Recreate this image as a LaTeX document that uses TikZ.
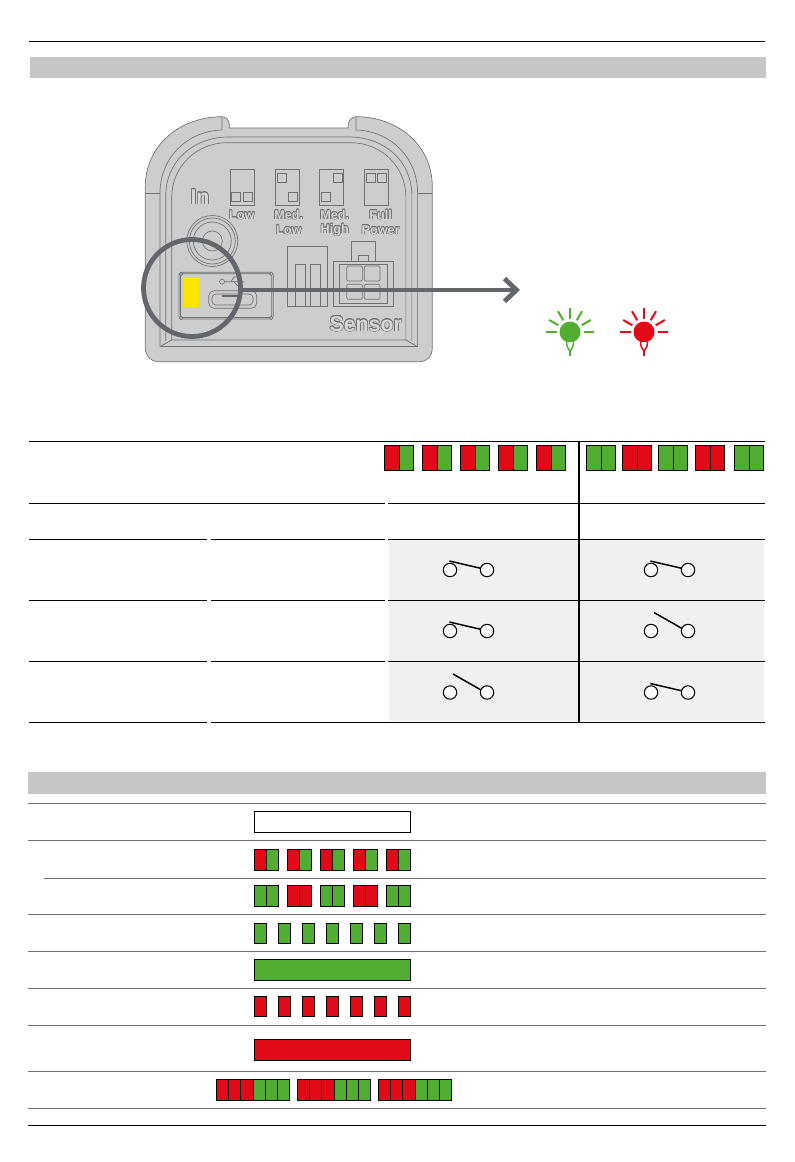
\documentclass[tikz,border=0pt]{standalone}
\usepackage{fontspec}
\setmainfont{Liberation Sans}
\usepackage[copies]{contour}
\usetikzlibrary{arrows.meta}
\definecolor{ledred}{HTML}{E30A17}
\definecolor{ledgreen}{HTML}{52AE32}
\definecolor{ledyellow}{HTML}{FFE600}
\definecolor{band}{HTML}{C6C6C6}
\definecolor{housing}{HTML}{CDCDCD}
\definecolor{edge}{HTML}{6E7072}
\definecolor{ring}{HTML}{63666A}
\tikzset{
	rule/.style={line width=.7pt},
	greyrule/.style={line width=.75pt, draw=black!55},
	cell/.style={draw=black, line width=.7pt},
	contact/.style={draw=black, fill=white, line width=.8pt},
	blade/.style={line width=1.1pt},
	outline/.style={draw=edge, line width=.5pt},
	print/.style={inner sep=0pt, font=\bfseries\fontsize{#1}{#1}\selectfont},
	print/.default=9.5
}
\contourlength{.4pt}
\contournumber{16}
\newcommand{\devtext}[1]{\contour{edge}{\textcolor{housing!80!white}{#1}}}
% x, top, width, height, left colour, right colour
\newcommand{\pairbar}[6]{
	\draw[cell, fill=#5] (#1,#2) rectangle ++(#3/2,#4);
	\draw[cell, fill=#6] (#1+#3/2,#2) rectangle ++(#3/2,#4);
}
% x, y, colour
\newcommand{\lamp}[3]{
	\fill[#3] (#1,#2) circle (10.5);
	\foreach \a in {-180,-150,...,0}
		\draw[#3, line width=1.5pt] (#1,#2) ++(\a:13.5) -- ++(\a:10.5);
	\draw[#3, fill=white, line width=1.1pt] (#1-3.5,#2+10) -- (#1-3,#2+14) -- (#1-1,#2+18) -- (#1+1,#2+18) -- (#1+3,#2+14) -- (#1+3.5,#2+10);
	\draw[#3, line width=1.4pt] (#1,#2+18) -- (#1,#2+24);
}
% x of left contact, x of right contact, y
\newcommand{\closedsw}[3]{
	\draw[contact] (#1,#3) circle (6.7);
	\draw[contact] (#2,#3) circle (6.7);
	\draw[blade] (#1-.7,#3-9) -- (#2-6.3,#3-1.7);
}
\newcommand{\opensw}[3]{
	\draw[contact] (#1,#3) circle (6.7);
	\draw[contact] (#2,#3) circle (6.7);
	\draw[blade] (#1+3,#3-18.5) -- (#2-6,#3-2.5);
}

\begin{document}
\begin{tikzpicture}[x=.75pt,y=-.75pt]
\useasboundingbox (0,0) rectangle (794,1162);

\draw[rule] (29,41) -- (765,41);
\fill[band] (30,57) rectangle (766,78);

% housing
\draw[outline, fill=housing] (145.3,187) .. controls (145.3,145) and (180,117) .. (221.7,116.7)
	.. controls (226,116.7) and (229.3,120) .. (229.3,125) -- (229.3,128) -- (348.3,128) -- (348.3,125)
	.. controls (348.3,120) and (352,116.7) .. (356.7,116.7)
	.. controls (398,117) and (432.3,145) .. (432.3,187) -- (432.3,348)
	.. controls (432.3,356) and (427,361.7) .. (420,361.7) -- (158,361.7)
	.. controls (151,361.7) and (145.3,356) .. (145.3,348) -- cycle;
\draw[outline] (160,346.7) -- (160,193) .. controls (160,158) and (187,131) .. (222,130) -- (222,116.7);
\draw[outline] (417.6,346.7) -- (417.6,193) .. controls (417.6,158) and (391,131) .. (356,130) -- (356,116.7);
\draw[outline] (165.7,341) -- (165.7,196) .. controls (165.7,162) and (192,138) .. (227,137) -- (351,137)
	.. controls (386,138) and (411.9,162) .. (411.9,196) -- (411.9,341);
\draw[outline] (171.7,340) -- (171.7,197) .. controls (171.7,168) and (195,143) .. (227,142.7) -- (351,142.7)
	.. controls (383,143) and (405.9,168) .. (405.9,197) -- (405.9,340) -- cycle;
\draw[outline] (160,346.7) -- (417.6,346.7);
\draw[outline] (160,346.7) -- (171.7,340) (417.6,346.7) -- (405.9,340);
\draw[outline] (145.3,193) -- (160,193) (417.6,193) -- (432.3,193);

% dip switches
\foreach \x in {230.3,275,319.7,364.3}
	\draw[outline] (\x,169.3) rectangle ++(24,36);
\foreach \x/\y in {231.7/192,243.3/192,277/173,288/192,333/173,321.3/192,366/173,377.5/173}
	\draw[outline] (\x,\y) rectangle ++(9,9);

\node[print=16] (labelin) at (200,197) {\devtext{In}};
\node[print] (labellow) at (241.7,215) {\devtext{Low}};
\node[print] (labelmed) at (288.7,215) {\devtext{Med.}};
\node[print] (labelmedlow) at (288.7,230.3) {\devtext{Low}};
\node[print] (labelmeh) at (334.7,215) {\devtext{Med.}};
\node[print] (labelhigh) at (334.7,230.3) {\devtext{High}};
\node[print] (labelfull) at (380.7,215) {\devtext{Full}};
\node[print] (labelpower) at (380.7,230.3) {\devtext{Power}};
\node[print=16] (labelsensor) at (365.7,324) {\devtext{Sensor}};

% jack
\foreach \r in {25.5,23,19,10}
	\draw[outline] (212.3,241) circle (\r);

% usb panel
\draw[outline, rounded corners=2pt] (179,272.3) rectangle (273.3,319);
\draw[outline, rounded corners=2pt] (180.5,273.8) rectangle (271.8,317.5);
\foreach \x/\y in {181/274,271.3/274,181/318,271.3/318}
	\draw[outline, fill=housing] (\x,\y) circle (1.7);
\fill[ledyellow] (184.3,277.7) rectangle (198.7,307.3);
\draw[outline, rounded corners=4pt] (208.7,290.7) rectangle (256.7,308.3);
\draw[outline, rounded corners=3pt] (212,294) rectangle (253,305);
\draw[ring, line width=1pt] (222,296) -- (240,296);
\draw[outline] (222,281.7) circle (2.5) (224.5,281.7) -- (244.3,281.7);
\draw[outline] (231,281.7) -- (234,277) -- (238,277) (234,281.7) -- (237,285.5) -- (240,285.5);

% connectors
\draw[outline] (287.3,246) rectangle (327.3,306.7);
\draw[outline] (295.7,264) rectangle (305.7,306.7);
\draw[outline] (310,264) rectangle (320,306.7);
\draw[outline] (333.3,261.3) rectangle (393.3,306);
\draw[outline] (339.3,264) rectangle (387.3,303.3);
\draw[outline] (351,261.3) -- (351,241.7) -- (375.7,241.7) -- (375.7,261.3);
\draw[outline] (358.3,261.3) -- (358.3,255) -- (368.3,255) -- (368.3,261.3);
\foreach \x/\y in {346.7/266,364.3/266,346.7/284.3,364.3/284.3}
	\draw[outline, rounded corners=1pt] (\x,\y) rectangle ++(15.7,15);

% marker
\coordinate (port) at (240,290);
\coordinate (target) at (520,290);
\draw[ring, line width=3.6pt] (192,288) circle (48.5);
\draw[ring, line width=3.6pt, -{Straight Barb[length=9pt,width=17pt]}] (port) -- (target);

\lamp{570}{332}{ledgreen}
\lamp{644}{332}{ledred}

% first table
\fill[black!6] (389,540) rectangle (764,721);
\draw[rule] (29,441) -- (765,441);
\draw[rule] (29,503) -- (385,503) (388,503) -- (765,503);
\foreach \y in {539,600,661}
	\draw[rule] (29,\y) -- (207,\y) (211,\y) -- (385,\y) (388,\y) -- (765,\y);
\draw[rule] (29,722) -- (207,722) (211,722) -- (765,722);
\draw[line width=1.6pt] (579,441) -- (579,503);
\draw[line width=.8pt] (579,503) -- (579,539);
\draw[line width=1.6pt] (579,539) -- (579,722);

\foreach \x in {384.3,422.3,460.3,498.3,536.3}
	{\pairbar{\x}{445.3}{29.4}{25.4}{ledred}{ledgreen}}
\foreach \x/\c in {586.3/ledgreen,622.3/ledred,658.3/ledgreen,695.3/ledred,734.3/ledgreen}
	{\pairbar{\x}{445.3}{29.4}{25.4}{\c}{\c}}

\closedsw{450}{487}{570}
\closedsw{651}{688}{570}
\closedsw{450}{487}{631}
\opensw{651}{688}{631}
\opensw{450}{487}{692.5}
\closedsw{651}{688}{692.5}

% second table
\fill[band] (28,772) rectangle (766,794);
\foreach \y in {803,840.5,914.5,951.5,988,1025,1071,1108}
	\draw[greyrule] (28,\y) -- (766,\y);
\draw[greyrule] (44,878) -- (766,878);
\draw[rule] (28,1125) -- (766,1125);

\draw[cell, fill=white] (254,811.3) rectangle (410.7,832.7);
\foreach \x in {254,287.3,320.3,353.3,386.3}
	{\pairbar{\x}{849.3}{24.4}{21.4}{ledred}{ledgreen}}
\foreach \x/\c in {254/ledgreen,287.3/ledred,320.3/ledgreen,353.3/ledred,386.3/ledgreen}
	{\pairbar{\x}{885.3}{24.4}{21.4}{\c}{\c}}
\foreach \i in {0,...,6}{
	\draw[cell, fill=ledgreen] (254+24*\i,923.3) rectangle ++(12.7,20.4);
	\draw[cell, fill=ledred] (254+24*\i,996.3) rectangle ++(12.7,20.4);
}
\draw[cell, fill=ledgreen] (254,959.3) rectangle (410.7,980.7);
\draw[cell, fill=ledred] (254,1039.3) rectangle (410.7,1060.7);
\foreach \x in {216.3,297.3,378.3}
	\foreach \i/\c in {0/ledred,1/ledred,2/ledred,3/ledgreen,4/ledgreen,5/ledgreen}
		\draw[cell, fill=\c] (\x+12.23*\i,1079.3) rectangle ++(12.23,21.4);
\end{tikzpicture}
\end{document}
